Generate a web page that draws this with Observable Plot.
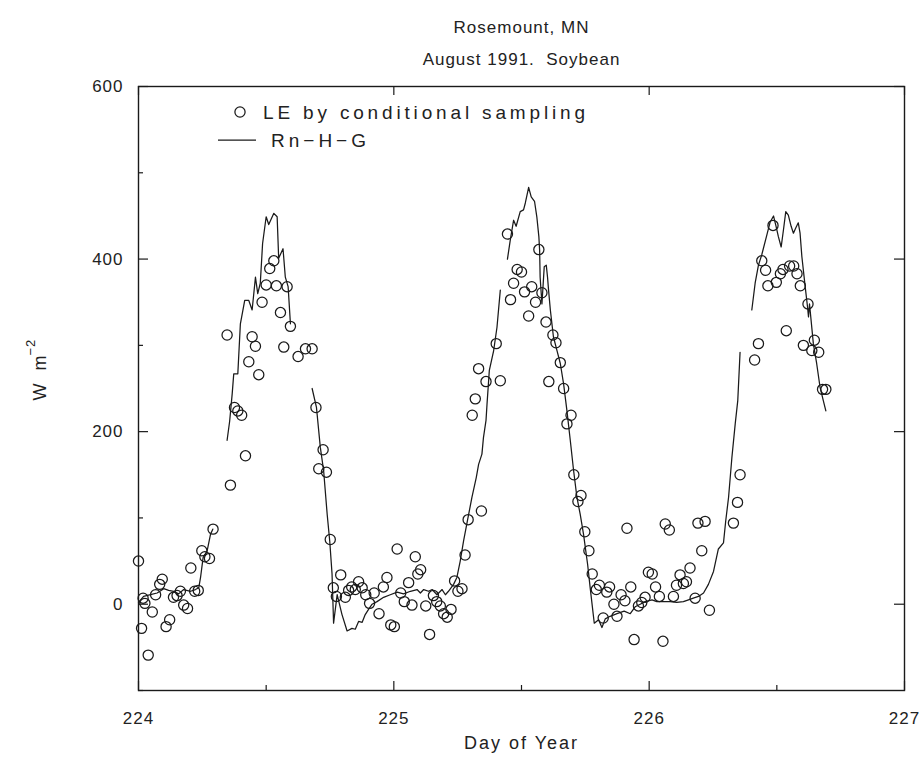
<!DOCTYPE html>
<html>
<head>
<meta charset="utf-8">
<script src="https://cdn.jsdelivr.net/npm/d3@7"></script>
<script src="https://cdn.jsdelivr.net/npm/@observablehq/plot@0.6"></script>
<style>
  body { margin: 0; background: #fff; }
  #wrap { position: relative; width: 924px; height: 768px; }
  #wrap svg { display: block; }
  #legend { position: absolute; left: 0; top: 0; pointer-events: none; }
</style>
</head>
<body>
<div id="wrap"></div>
<script>
// ---- Text ----
const titleLine1 = "Rosemount, MN";
const titleLine2 = "August 1991.  Soybean";
const xLabel = "Day of Year";
const yLabelMain = "W  m";
const yLabelExp = "−2";
const legendDots = "LE by conditional sampling";
const legendLine = "Rn−H−G";

// ---- Ticks ----
const xMajorTicks = [224, 225, 226, 227];
const xMinorTicks = [224.5, 225.5, 226.5];
const yLabelTicks = [0, 200, 400, 600];
const yMinorTicks = [-100, 100, 300, 500];

// ---- LE by conditional sampling (circles) ----
const leDay = [224.000,224.018,224.025,224.012,224.038,224.054,224.067,224.083,224.093,224.108,
224.122,224.137,224.151,224.164,224.177,224.192,224.205,224.220,224.234,224.248,
224.260,224.278,224.292,224.347,224.360,224.376,224.389,224.404,224.419,224.432,
224.445,224.458,224.471,224.484,224.500,224.514,224.530,224.540,224.556,224.569,
224.582,224.595,224.625,224.654,224.680,224.695,224.723,224.706,224.736,224.751,
224.792,224.763,224.775,224.810,224.823,224.835,224.849,224.862,224.876,224.890,
224.905,224.923,224.942,224.959,224.973,224.988,225.002,225.013,225.027,225.041,
225.058,225.071,225.084,225.094,225.105,225.125,225.140,225.155,225.168,225.182,
225.195,225.209,225.224,225.238,225.251,225.267,225.279,225.291,225.307,225.319,
225.343,225.332,225.361,225.401,225.417,225.445,225.457,225.469,225.483,225.500,
225.512,225.528,225.540,225.555,225.568,225.580,225.596,225.607,225.623,225.635,
225.652,225.665,225.678,225.694,225.705,225.733,225.721,225.748,225.764,225.777,
225.805,225.793,225.820,225.845,225.834,225.862,225.874,225.890,225.905,225.913,
225.928,225.941,225.958,225.971,225.984,225.997,226.012,226.025,226.040,226.054,
226.063,226.079,226.095,226.107,226.121,226.134,226.146,226.160,226.180,226.191,
226.206,226.219,226.236,226.330,226.346,226.356,226.413,226.428,226.441,226.456,
226.465,226.485,226.498,226.514,226.524,226.537,226.550,226.566,226.579,226.592,
226.604,226.622,226.637,226.647,226.664,226.679,226.692];
const leVal = [50,7,1,-28,-59,-9,11,23,29,-26,
-18,8,10,15,-1,-5,42,15,16,62,
55,53,87,312,138,228,224,219,172,281,
310,299,266,350,370,389,398,369,338,298,
368,322,287,296,296,228,179,157,153,75,
34,19,9,8,16,20,17,26,19,11,
1,13,-11,20,31,-24,-26,64,13,3,
25,-1,55,35,40,-2,-35,10,3,-2,
-11,-15,-6,27,15,18,57,98,219,238,
108,273,258,302,259,429,353,372,388,385,
362,334,368,350,411,361,327,258,312,303,
280,250,209,219,150,126,119,84,62,35,
22,17,-16,20,14,0,-14,11,4,88,
20,-41,-2,2,8,37,35,20,9,-43,
93,86,9,22,34,24,26,42,7,94,
62,96,-7,94,118,150,283,302,398,387,
369,439,373,383,388,317,392,392,383,369,
300,348,294,306,292,249,249];

// ---- Rn-H-G (line, in separate recorded segments) ----
const rnDay1 = [224.000,224.020,224.047,224.073,224.099,224.118,224.138,224.157,224.177,224.204,224.223,224.236,224.243,224.253,224.269,224.282,224.291];
const rnVal1 = [2,9,11,13,18,16,15,12,17,15,17,19,31,54,62,81,87];
const rnDay2 = [224.347,224.357,224.367,224.373,224.389,224.399,224.416,224.432,224.445,224.458,224.467,224.477,224.486,224.500,224.510,224.530,224.543,224.549,224.566,224.575,224.586,224.595];
const rnVal2 = [190,212,244,267,267,325,352,352,341,379,360,372,418,449,440,453,449,401,412,379,368,325];
const rnDay3 = [224.680,224.697,224.712,224.725,224.739,224.749,224.758,224.764,224.778,224.797,
224.817,224.836,224.849,224.862,224.876,224.888,224.901,224.915,224.934,224.960,
224.986,225.013,225.038,225.065,225.091,225.104,225.117,225.136,225.150,225.169,
225.189,225.202,225.214,225.234,225.247,225.260,225.273,225.289,225.306,225.323,
225.332,225.345,225.351,225.361,225.365,225.374,225.391,225.404,225.417];
const rnVal3 = [250,228,182,155,104,73,35,-22,11,-12,
-31,-28,-29,-20,-21,-12,-6,0,3,8,
11,14,12,15,17,13,17,15,17,11,
17,11,15,23,31,50,73,98,124,147,
162,174,193,213,232,271,294,321,364];
const rnDay4 = [225.445,225.456,225.469,225.479,225.495,225.508,225.515,225.528,225.538,225.551,
225.560,225.568,225.571,225.573,225.580,225.589,225.597,225.602,225.606,225.613,
225.625,225.639,225.652,225.665,225.678,225.691,225.704,225.717,225.730,225.743,
225.759,225.769,225.785,225.802,225.815,225.828,225.847,225.874,225.902,225.926,
225.945,225.965,225.984,226.011,226.030,226.056,226.082,226.108,226.134,226.154,
226.173,226.193,226.213,226.232,226.252,226.271,226.291,226.300,226.311,226.324,
226.337,226.347,226.356];
const rnVal4 = [400,422,445,438,455,457,465,483,472,467,
449,426,410,379,348,391,393,379,364,341,
310,294,279,255,224,190,155,124,104,81,
46,19,-22,-18,-27,-17,-14,-11,-8,-11,
-3,0,3,5,3,3,3,2,3,5,
7,9,13,23,38,64,71,97,124,170,
209,236,292];
const rnDay5 = [226.402,226.415,226.428,226.441,226.461,226.474,226.487,226.497,226.506,226.517,226.526,226.535,226.545,226.556,226.565,226.574,226.584,226.591,226.598,226.611,226.620,226.624,226.628,226.643,226.656,226.669,226.682,226.692];
const rnVal5 = [341,372,393,405,428,443,450,438,426,414,434,455,451,438,430,436,442,430,403,368,345,333,348,302,279,252,236,224];

// ---- Build tables ----
const leTable = leDay.map((d, i) => ({day: d, v: leVal[i]}));
const rnSegments = [[rnDay1, rnVal1], [rnDay2, rnVal2], [rnDay3, rnVal3], [rnDay4, rnVal4], [rnDay5, rnVal5]];
const rnTable = rnSegments.flatMap(([ds, vs], s) => ds.map((d, i) => ({day: d, v: vs[i], seg: s})));

// ---- Layout ----
const W = 924, H = 768;
const mL = 138, mR = 20, mT = 86, mB = 78;
const innerW = W - mL - mR, innerH = H - mT - mB;
const ink = "#1a1a1a";
const textInk = "#222";
const font = "'Liberation Sans', Arial, sans-serif";

const chart = Plot.plot({
  width: W, height: H,
  marginLeft: mL, marginRight: mR, marginTop: mT, marginBottom: mB,
  style: {fontFamily: font, fontSize: "17px", color: textInk, background: "#fff", letterSpacing: "1px"},
  x: {domain: [224, 227]},
  y: {domain: [-100, 600]},
  marks: [
    Plot.frame({stroke: ink, strokeWidth: 1.4}),
    // inward ticks: bottom
    Plot.tickX(xMajorTicks, {x: d => d, insetTop: innerH - 9, stroke: ink, strokeWidth: 1.2}),
    Plot.tickX(xMinorTicks, {x: d => d, insetTop: innerH - 5, stroke: ink, strokeWidth: 1.2}),
    // top
    Plot.tickX(xMajorTicks, {x: d => d, insetBottom: innerH - 9, stroke: ink, strokeWidth: 1.2}),
    // left
    Plot.tickY(yLabelTicks, {y: d => d, insetRight: innerW - 10, stroke: ink, strokeWidth: 1.2}),
    Plot.tickY(yMinorTicks, {y: d => d, insetRight: innerW - 5, stroke: ink, strokeWidth: 1.2}),
    // right
    Plot.tickY(yLabelTicks, {y: d => d, insetLeft: innerW - 10, stroke: ink, strokeWidth: 1.2}),
    Plot.axisX(xMajorTicks, {tickSize: 0, tickPadding: 21, label: null, tickFormat: d => String(d)}),
    Plot.axisY(yLabelTicks, {tickSize: 0, tickPadding: 15, label: null, tickFormat: d => String(d)}),
    Plot.line(rnTable, {x: "day", y: "v", z: "seg", stroke: ink, strokeWidth: 1.25}),
    Plot.dot(leTable, {x: "day", y: "v", r: 5.1, stroke: ink, strokeWidth: 1.25, fill: "none"}),
    Plot.text([titleLine1], {frameAnchor: "top", dy: -66, fontSize: 17, text: d => d, fill: textInk}),
    Plot.text([titleLine2], {frameAnchor: "top", dy: -34, fontSize: 17, text: d => d, fill: textInk}),
    Plot.text([xLabel], {frameAnchor: "bottom", dy: 58, fontSize: 18, text: d => d, fill: textInk}),
    Plot.text([yLabelMain], {frameAnchor: "left", dx: -98, dy: 12, rotate: -90, fontSize: 18, text: d => d, fill: textInk}),
    Plot.text([yLabelExp], {frameAnchor: "left", dx: -108, dy: -33, rotate: -90, fontSize: 13, text: d => d, fill: textInk})
  ]
});

const wrap = document.getElementById("wrap");
wrap.appendChild(chart);
// a touch more letter spacing on the x label, like the reference
d3.select(chart).selectAll("text").filter(function () { return this.textContent === xLabel; })
  .attr("letter-spacing", "2");

// ---- Legend overlay ----
const ns = "http://www.w3.org/2000/svg";
const lg = document.createElementNS(ns, "svg");
lg.setAttribute("id", "legend");
lg.setAttribute("width", W);
lg.setAttribute("height", H);
lg.setAttribute("font-family", font);
lg.setAttribute("font-size", "19");
lg.setAttribute("fill", textInk);
lg.innerHTML =
  `<circle cx="240" cy="112" r="5.1" fill="none" stroke="${ink}" stroke-width="1.25"></circle>` +
  `<text x="263" y="112" dy="0.35em" textLength="322" lengthAdjust="spacing">${legendDots}</text>` +
  `<line x1="218" x2="256" y1="140" y2="140" stroke="${ink}" stroke-width="1.25"></line>` +
  `<text x="271" y="140" dy="0.35em" textLength="95" lengthAdjust="spacing">${legendLine}</text>`;
wrap.appendChild(lg);
</script>
</body>
</html>
